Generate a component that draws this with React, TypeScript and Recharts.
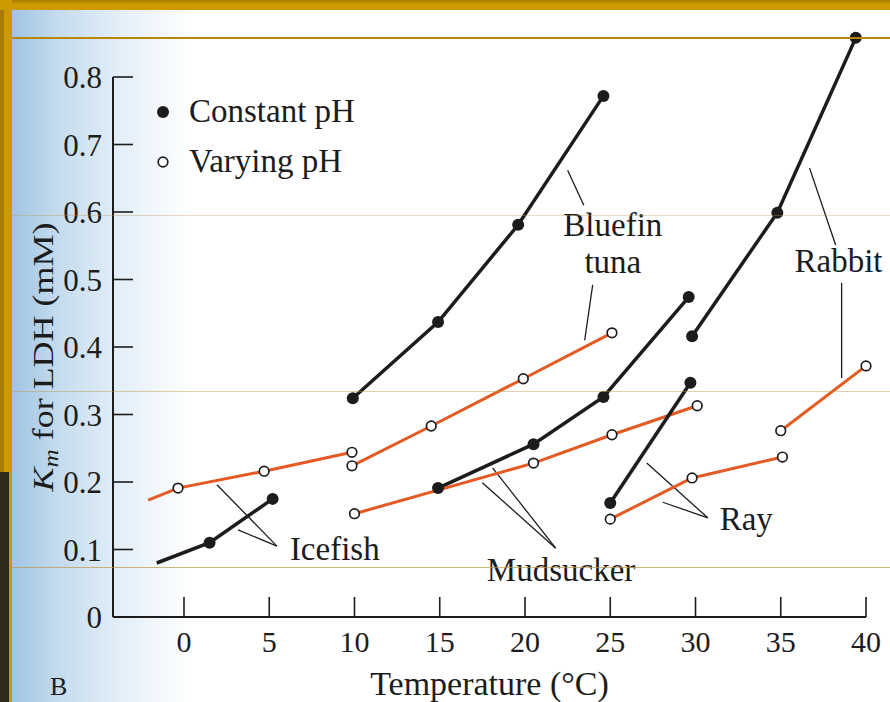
import React from "react"
import { LineChart, Line, XAxis, YAxis, ReferenceLine, ReferenceDot, Legend, Label } from "recharts"

// axis ticks
const tempTicks = [0, 5, 10, 15, 20, 25, 30, 35, 40]
const kmTicks = [0, 0.1, 0.2, 0.3, 0.4, 0.5, 0.6, 0.7, 0.8]

// Km for LDH (mM), temperatures in °C
const icefishConstTemp = [-1.6, 1.5, 5.2]
const icefishConstKm = [0.08, 0.11, 0.175]
const icefishVarTemp = [-2.1, -0.35, 4.7, 9.85]
const icefishVarKm = [0.173, 0.191, 0.216, 0.244]

const bluefinConstTemp = [9.9, 14.9, 19.6, 24.6]
const bluefinConstKm = [0.324, 0.437, 0.581, 0.772]
const bluefinVarTemp = [9.85, 14.5, 19.9, 25.1]
const bluefinVarKm = [0.224, 0.283, 0.353, 0.421]

const mudsuckerConstTemp = [14.9, 20.5, 24.6, 29.6]
const mudsuckerConstKm = [0.191, 0.256, 0.326, 0.474]
const mudsuckerVarTemp = [10.0, 20.5, 25.1, 30.1]
const mudsuckerVarKm = [0.153, 0.228, 0.27, 0.313]

const rayConstTemp = [25.0, 29.7]
const rayConstKm = [0.169, 0.347]
const rayVarTemp = [25.0, 29.8, 35.1]
const rayVarKm = [0.145, 0.206, 0.237]

const rabbitConstTemp = [29.8, 34.8, 39.4]
const rabbitConstKm = [0.416, 0.599, 0.858]
const rabbitVarTemp = [35.0, 40.0]
const rabbitVarKm = [0.276, 0.372]

// lines whose first point is just where the drawn curve starts (no symbol)
const openStart = ["icefishConst", "icefishVar"]

const toPoints = (temps: number[], kms: number[]) => temps.map((t, i) => ({ temp: t, km: kms[i] }))

const series = [
    { id: "icefishConst", varying: false, data: toPoints(icefishConstTemp, icefishConstKm) },
    { id: "icefishVar", varying: true, data: toPoints(icefishVarTemp, icefishVarKm) },
    { id: "bluefinConst", varying: false, data: toPoints(bluefinConstTemp, bluefinConstKm) },
    { id: "bluefinVar", varying: true, data: toPoints(bluefinVarTemp, bluefinVarKm) },
    { id: "mudsuckerConst", varying: false, data: toPoints(mudsuckerConstTemp, mudsuckerConstKm) },
    { id: "mudsuckerVar", varying: true, data: toPoints(mudsuckerVarTemp, mudsuckerVarKm) },
    { id: "rayConst", varying: false, data: toPoints(rayConstTemp, rayConstKm) },
    { id: "rayVar", varying: true, data: toPoints(rayVarTemp, rayVarKm) },
    { id: "rabbitConst", varying: false, data: toPoints(rabbitConstTemp, rabbitConstKm) },
    { id: "rabbitVar", varying: true, data: toPoints(rabbitVarTemp, rabbitVarKm) },
]

// leader lines of the species labels, [temp, km] pairs
const leaders: [number, number, number, number][] = [
    [1.93, 0.196, 5.45, 0.105],
    [3.17, 0.129, 5.45, 0.105],
    [18.1, 0.221, 21.8, 0.102],
    [17.5, 0.199, 21.8, 0.102],
    [27.14, 0.228, 30.72, 0.147],
    [28.08, 0.17, 30.72, 0.147],
    [22.5, 0.662, 23.45, 0.61],
    [23.97, 0.492, 23.5, 0.41],
    [36.69, 0.665, 38.22, 0.551],
    [38.57, 0.495, 38.57, 0.354],
]

const speciesLabels = [
    { text: "Icefish", temp: 6.21, km: 0.084, anchor: "start" },
    { text: "Mudsucker", temp: 17.76, km: 0.053, anchor: "start" },
    { text: "Ray", temp: 31.42, km: 0.129, anchor: "start" },
    { text: "Bluefin", temp: 25.15, km: 0.565, anchor: "middle" },
    { text: "tuna", temp: 25.15, km: 0.509, anchor: "middle" },
    { text: "Rabbit", temp: 35.81, km: 0.511, anchor: "start" },
]

const SERIF = "'Liberation Serif', 'Times New Roman', serif"
const INK = "#1c1c1c"
const ORANGE = "#e45a22"

const makeDot = (id: string, varying: boolean) => (props: any) => {
    const { cx, cy, index } = props
    const k = `${id}-${index}`
    if (cx == null || cy == null || (index === 0 && openStart.includes(id))) return <g key={k} />
    if (varying) return <circle key={k} cx={cx} cy={cy} r={4.8} fill="#fff" stroke={INK} strokeWidth={1.7} />
    return <circle key={k} cx={cx} cy={cy} r={6} fill={INK} />
}

const renderLegend = () => (
    <svg width={260} height={100}>
        <circle cx={13} cy={22} r={6} fill={INK} />
        <text x={39} y={32} fontFamily={SERIF} fontSize={33} fill={INK}>Constant pH</text>
        <circle cx={13} cy={72} r={4.8} fill="#fff" stroke={INK} strokeWidth={1.7} />
        <text x={39} y={82} fontFamily={SERIF} fontSize={33} fill={INK}>Varying pH</text>
    </svg>
)

export default function App() {
    return (
        <div style={{ position: "absolute", left: 0, top: 0, width: 890, height: 702, overflow: "hidden", background: "#fff" }}>
            {/* slide frame and tinted scan edge */}
            <div style={{ position: "absolute", left: 12, top: 10, width: 180, height: 692, background: "linear-gradient(to right, #9fc4e2 0px, #c4dbee 45px, #e4eff8 110px, rgba(255,255,255,0) 180px)" }} />
            <div style={{ position: "absolute", left: 0, top: 0, width: 890, height: 10, background: "linear-gradient(#a87800, #cc9900 40%)" }} />
            <div style={{ position: "absolute", left: 0, top: 0, width: 12, height: 702, background: "#cc9900" }} />
            <div style={{ position: "absolute", left: 0, top: 10, width: 4, height: 462, background: "#a87a08" }} />
            <div style={{ position: "absolute", left: 0, top: 472, width: 9, height: 230, background: "#2e2a1c" }} />

            <div style={{ position: "absolute", left: 0, top: 0 }}>
                <LineChart width={890} height={702} margin={{ top: 23, right: 24, left: 0, bottom: 0 }}>
                    <XAxis
                        type="number"
                        dataKey="temp"
                        domain={[-4.164, 40]}
                        ticks={tempTicks}
                        height={85}
                        axisLine={{ stroke: INK, strokeWidth: 2 }}
                        tickLine={{ stroke: INK, strokeWidth: 1.6 }}
                        tickSize={-20}
                        tickMargin={34}
                        tick={{ fontFamily: SERIF, fontSize: 30, fill: INK }}
                    >
                        <Label value="Temperature (°C)" position="insideBottom" offset={7} style={{ fontFamily: SERIF, fontSize: 34, fill: INK }} />
                    </XAxis>
                    <YAxis
                        type="number"
                        dataKey="km"
                        domain={[0, 0.88]}
                        ticks={kmTicks}
                        width={113}
                        axisLine={false}
                        tickLine={{ stroke: INK, strokeWidth: 1.6 }}
                        tickSize={-20}
                        tickMargin={31}
                        tickFormatter={(v: number) => (v === 0 ? "0" : v.toFixed(1))}
                        tick={{ fontFamily: SERIF, fontSize: 31, fill: INK }}
                    >
                        <Label
                            content={() => (
                                <text transform="translate(53,357) rotate(-90) scale(1.2,1)" textAnchor="middle" fontFamily={SERIF} fontSize={30} fill={INK}>
                                    <tspan fontStyle="italic">K</tspan>
                                    <tspan fontStyle="italic" fontSize={21} dy={5}>m</tspan>
                                    <tspan dy={-5}> for LDH (mM)</tspan>
                                </text>
                            )}
                        />
                    </YAxis>
                    <ReferenceLine
                        segment={[{ x: -4.164, y: 0 }, { x: -4.164, y: 0.8 }]}
                        stroke={INK}
                        strokeWidth={2}
                        ifOverflow="visible"
                    />
                    {leaders.map(([x1, y1, x2, y2], i) => (
                        <ReferenceLine
                            key={`leader-${i}`}
                            segment={[{ x: x1, y: y1 }, { x: x2, y: y2 }]}
                            stroke={INK}
                            strokeWidth={1.3}
                            ifOverflow="visible"
                        />
                    ))}
                    {series.map(s => (
                        <Line
                            key={s.id}
                            data={s.data}
                            dataKey="km"
                            type="linear"
                            stroke={s.varying ? ORANGE : INK}
                            strokeWidth={s.varying ? 3 : 3.5}
                            dot={makeDot(s.id, s.varying)}
                            activeDot={false}
                            legendType="none"
                            isAnimationActive={false}
                        />
                    ))}
                    {speciesLabels.map(l => (
                        <ReferenceDot
                            key={l.text}
                            x={l.temp}
                            y={l.km}
                            r={0}
                            ifOverflow="visible"
                            shape={(p: any) => (
                                <text x={p.cx} y={p.cy} textAnchor={l.anchor as any} fontFamily={SERIF} fontSize={33} fill={INK}>
                                    {l.text}
                                </text>
                            )}
                        />
                    ))}
                    <Legend
                        layout="vertical"
                        align="center"
                        verticalAlign="middle"
                        content={renderLegend}
                        wrapperStyle={{ position: "absolute", left: 150, top: 90, width: 260, height: 100 }}
                    />
                </LineChart>
            </div>

            <div style={{ position: "absolute", left: 50, top: 672, fontFamily: SERIF, fontSize: 26, color: INK, lineHeight: "30px" }}>B</div>

            {/* faint rules of the slide template */}
            <div style={{ position: "absolute", left: 12, top: 37, width: 878, height: 2, background: "#b8860b" }} />
            <div style={{ position: "absolute", left: 12, top: 215, width: 878, height: 1, background: "rgba(190,150,70,0.35)" }} />
            <div style={{ position: "absolute", left: 12, top: 391, width: 878, height: 1, background: "rgba(190,150,70,0.45)" }} />
            <div style={{ position: "absolute", left: 12, top: 567, width: 878, height: 1, background: "rgba(190,150,70,0.7)" }} />
        </div>
    )
}
